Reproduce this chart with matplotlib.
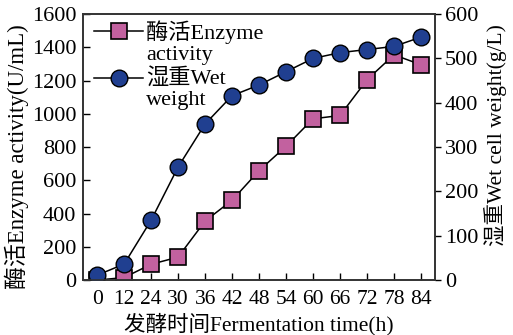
import matplotlib
matplotlib.use("Agg")
import matplotlib.pyplot as plt
from matplotlib.legend_handler import HandlerLine2D
import numpy as np

plt.rcParams['font.family'] = ['Liberation Serif', 'Noto Sans CJK SC']
plt.rcParams['font.size'] = 15

# fermentation time (h), categories evenly spaced on the axis
times = ['0', '12', '24', '30', '36', '42', '48', '54', '60', '66', '72', '78', '84']
enzyme = [0, 15, 95, 138, 355, 480, 658, 805, 970, 990, 1205, 1355, 1295]
wet_weight = [11, 36, 135, 255, 352, 416, 440, 470, 500, 513, 520, 527, 548]

pink = '#C2619F'
navy = '#203F90'


class FirstLineHandler(HandlerLine2D):
    # put the legend marker next to the first line of a two-line label
    def create_artists(self, legend, orig_handle, xdescent, ydescent,
                       width, height, fontsize, trans):
        arts = super().create_artists(legend, orig_handle, xdescent, ydescent,
                                      width, height, fontsize, trans)
        for a in arts:
            a.set_ydata(np.asarray(a.get_ydata()) + 0.47 * fontsize)
        return arts


fig = plt.figure(figsize=(5.13, 3.35), dpi=100)
ax = fig.add_axes([0.162, 0.164, 0.686, 0.794])
ax2 = ax.twinx()

x = np.arange(len(times))
l1, = ax.plot(x, enzyme, color='black', lw=1.1, marker='s', ms=11,
              mfc=pink, mec='black', mew=1.2, label='酶活Enzyme\nactivity')
l2, = ax2.plot(x, wet_weight, color='black', lw=1.1, marker='o', ms=12,
               mfc=navy, mec='black', mew=1.0, label='湿重Wet\nweight')

ax.set_xlim(-0.52, len(times) - 0.48)
ax.set_ylim(0, 1600)
ax2.set_ylim(0, 600)
ax.set_xticks(x)
ax.set_xticklabels(times)
ax.set_yticks(range(0, 1601, 200))
ax2.set_yticks(range(0, 601, 100))

ax.tick_params(axis='x', direction='in', length=5, width=1, pad=7, labelsize=15.5)
ax.tick_params(axis='y', direction='in', length=5, width=1, pad=5, labelsize=16)
ax2.tick_params(axis='y', direction='out', length=4, width=1, pad=3, labelsize=16)
for a in (ax, ax2):
    for s in a.spines.values():
        s.set_linewidth(1.2)
        s.set_color('#333333')

ax.set_xlabel('发酵时间Fermentation time(h)', labelpad=3, fontsize=15.5)
ax.set_ylabel('酶活Enzyme activity(U/mL)', fontsize=16.5)
ax.yaxis.set_label_coords(-0.153, 0.465)
ax2.set_ylabel('湿重Wet cell weight(g/L)', fontsize=15.5)
ax2.yaxis.set_label_coords(1.14, 0.545)

hm = {l1: FirstLineHandler(), l2: FirstLineHandler()}
ax2.legend([l1, l2], [l1.get_label(), l2.get_label()], loc='upper left',
           bbox_to_anchor=(0.0, 1.02), frameon=False, handlelength=2.2,
           handletextpad=0.15, borderaxespad=0.1, labelspacing=0.1,
           fontsize=16, handler_map=hm)

fig.savefig('out.png', dpi=100)
